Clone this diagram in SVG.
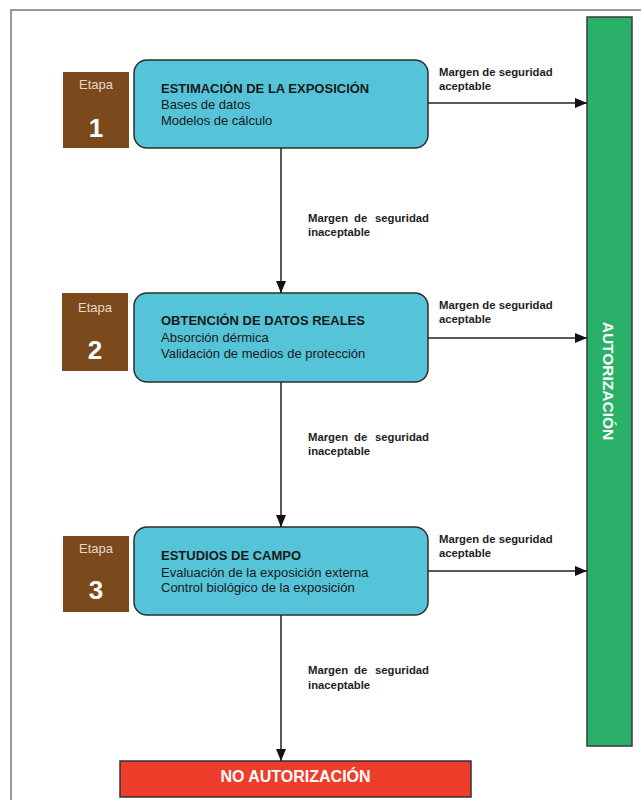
<svg xmlns="http://www.w3.org/2000/svg" width="641" height="800" viewBox="0 0 641 800">
<defs>
<marker id="ah" viewBox="0 0 12 10" refX="12" refY="5" markerWidth="12" markerHeight="10" markerUnits="userSpaceOnUse" orient="auto">
<path d="M0,0 L12,5 L0,10 Z" fill="#111"/>
</marker>
</defs>
<style>
.stage{fill:#55c3d8;stroke:#2e2e2e;stroke-width:1.5}
.etapa{fill:#7b4a1c}
.et{font-family:"Liberation Sans",Arial,sans-serif;font-size:13px;fill:#e4d8cc;text-anchor:middle}
.num{font-family:"Liberation Sans",Arial,sans-serif;font-size:26px;font-weight:bold;fill:#ffffff;text-anchor:middle}
.ttl{font-family:"Liberation Sans",Arial,sans-serif;font-size:13px;font-weight:bold;fill:#1a1a1a}
.sub{font-family:"Liberation Sans",Arial,sans-serif;font-size:13px;fill:#1a1a1a}
.lbl{font-family:"Liberation Sans",Arial,sans-serif;font-size:11.3px;font-weight:bold;fill:#1e1e1e}
.con{stroke:#222;stroke-width:1.5;fill:none}
</style>
<rect x="0" y="0" width="641" height="800" fill="#ffffff"/>
<rect x="11" y="10" width="700" height="900" fill="none" stroke="#555" stroke-width="1.2"/>

<g id="autorizacion">
<rect x="587" y="17" width="45" height="729" fill="#2bb06a" stroke="#3a3a3a" stroke-width="1.5"/>
<text transform="translate(603,381) rotate(90)" x="0" y="0" text-anchor="middle" font-family="'Liberation Sans',Arial,sans-serif" font-size="15.5" font-weight="bold" fill="#ffffff">AUTORIZACIÓN</text>
</g>

<g id="no-autorizacion">
<rect x="120" y="761" width="351" height="36" fill="#ee3d2a" stroke="#333" stroke-width="1.5"/>
<text x="295.5" y="782" text-anchor="middle" font-family="'Liberation Sans',Arial,sans-serif" font-size="16" font-weight="bold" fill="#ffffff">NO AUTORIZACIÓN</text>
</g>

<g id="etapa1">
<rect class="etapa" x="63" y="72" width="66" height="76"/>
<text class="et" x="96" y="89">Etapa</text>
<text class="num" x="96" y="137">1</text>
</g>
<g id="stage1">
<rect class="stage" x="134" y="60" width="294" height="88" rx="13"/>
<text class="ttl" x="161" y="93">ESTIMACIÓN DE LA EXPOSICIÓN</text>
<text class="sub" x="161" y="109">Bases de datos</text>
<text class="sub" x="161" y="125">Modelos de cálculo</text>
</g>

<g id="etapa2">
<rect class="etapa" x="62" y="293" width="66" height="78"/>
<text class="et" x="95" y="312">Etapa</text>
<text class="num" x="95" y="359">2</text>
</g>
<g id="stage2">
<rect class="stage" x="134" y="293" width="294" height="89" rx="13"/>
<text class="ttl" x="161" y="325">OBTENCIÓN DE DATOS REALES</text>
<text class="sub" x="161" y="342">Absorción dérmica</text>
<text class="sub" x="161" y="358">Validación de medios de protección</text>
</g>

<g id="etapa3">
<rect class="etapa" x="63" y="536" width="66" height="76"/>
<text class="et" x="96" y="553">Etapa</text>
<text class="num" x="96" y="599">3</text>
</g>
<g id="stage3">
<rect class="stage" x="134" y="527" width="294" height="88" rx="13"/>
<text class="ttl" x="161" y="560">ESTUDIOS DE CAMPO</text>
<text class="sub" x="161" y="577">Evaluación de la exposición externa</text>
<text class="sub" x="161" y="592">Control biológico de la exposición</text>
</g>

<g id="connectors">
<line class="con" x1="428" y1="103" x2="587" y2="103" marker-end="url(#ah)"/>
<line class="con" x1="428" y1="338" x2="587" y2="338" marker-end="url(#ah)"/>
<line class="con" x1="428" y1="571" x2="587" y2="571" marker-end="url(#ah)"/>
<line class="con" x1="281" y1="148" x2="281" y2="293" marker-end="url(#ah)"/>
<line class="con" x1="281" y1="382" x2="281" y2="527" marker-end="url(#ah)"/>
<line class="con" x1="281" y1="615" x2="281" y2="761" marker-end="url(#ah)"/>

<text class="lbl" x="439" y="76">Margen de seguridad</text>
<text class="lbl" x="439" y="90">aceptable</text>
<text class="lbl" x="439" y="309">Margen de seguridad</text>
<text class="lbl" x="439" y="323">aceptable</text>
<text class="lbl" x="439" y="543">Margen de seguridad</text>
<text class="lbl" x="439" y="557">aceptable</text>

<text class="lbl" y="222"><tspan x="308">Margen</tspan><tspan x="354">de</tspan><tspan x="429" text-anchor="end">seguridad</tspan></text>
<text class="lbl" x="308" y="236">inaceptable</text>
<text class="lbl" y="441"><tspan x="308">Margen</tspan><tspan x="354">de</tspan><tspan x="429" text-anchor="end">seguridad</tspan></text>
<text class="lbl" x="308" y="455">inaceptable</text>
<text class="lbl" y="674"><tspan x="308">Margen</tspan><tspan x="354">de</tspan><tspan x="429" text-anchor="end">seguridad</tspan></text>
<text class="lbl" x="308" y="689">inaceptable</text>
</g>
</svg>
